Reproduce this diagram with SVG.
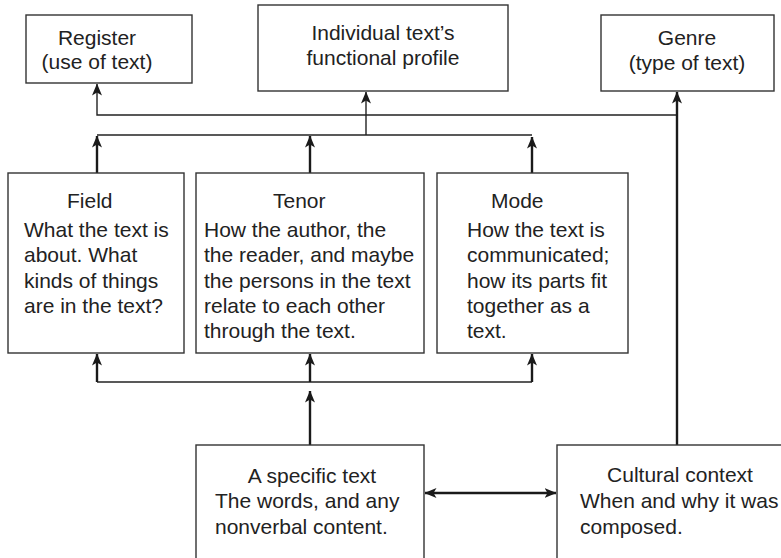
<svg xmlns="http://www.w3.org/2000/svg" width="781" height="558" viewBox="0 0 781 558">
  <style>
    .box { fill: #ffffff; stroke: #333333; stroke-width: 1.4; }
    .txt { font-family: "Liberation Sans", Arial, Helvetica, sans-serif; font-size: 21px; fill: #222222; }
    .mid { text-anchor: middle; }
    .thin { fill: none; stroke: #222222; stroke-width: 1.4; }
    .thick { fill: none; stroke: #1a1a1a; stroke-width: 2.4; }
  </style>
  <defs>
    <marker id="head" viewBox="0 0 12 10" refX="11.5" refY="5" markerWidth="12" markerHeight="10" markerUnits="userSpaceOnUse" orient="auto-start-reverse">
      <path d="M0,0 L12,5 L0,10 L3,5 Z" fill="#1a1a1a"/>
    </marker>
  </defs>

  <rect width="781" height="558" fill="#ffffff"/>

  <!-- connectors -->
  <g id="connectors">
    <!-- register / genre bar -->
    <polyline class="thin" points="677,115 97,115 97,84" marker-end="url(#head)"/>
    <!-- profile bar collecting field, tenor, mode -->
    <line class="thin" x1="97" y1="135" x2="532" y2="135"/>
    <line class="thin" x1="366" y1="135" x2="366" y2="92" marker-end="url(#head)"/>
    <line class="thick" x1="97" y1="173" x2="97" y2="136" marker-end="url(#head)"/>
    <line class="thick" x1="310" y1="173" x2="310" y2="136" marker-end="url(#head)"/>
    <line class="thick" x1="532" y1="173" x2="532" y2="137" marker-end="url(#head)"/>
    <!-- genre riser from cultural context -->
    <line class="thick" x1="677" y1="445" x2="677" y2="92" marker-end="url(#head)"/>
    <!-- lower distribution bar -->
    <line class="thin" x1="97" y1="382" x2="532" y2="382"/>
    <line class="thick" x1="97" y1="382" x2="97" y2="354" marker-end="url(#head)"/>
    <line class="thick" x1="310" y1="382" x2="310" y2="354" marker-end="url(#head)"/>
    <line class="thick" x1="532" y1="382" x2="532" y2="354" marker-end="url(#head)"/>
    <line class="thick" x1="310" y1="445" x2="310" y2="391" marker-end="url(#head)"/>
    <!-- text / context exchange -->
    <line class="thick" x1="425" y1="493" x2="556" y2="493" marker-start="url(#head)" marker-end="url(#head)"/>
  </g>

  <g id="register">
    <rect class="box" x="26" y="15" width="166" height="68"/>
    <text class="txt mid" x="97" y="45">Register</text>
    <text class="txt mid" x="97" y="69">(use of text)</text>
  </g>

  <g id="profile">
    <rect class="box" x="258" y="5" width="250" height="86"/>
    <text class="txt mid" x="383" y="40">Individual text’s</text>
    <text class="txt mid" x="383" y="65">functional profile</text>
  </g>

  <g id="genre">
    <rect class="box" x="601" y="15" width="173" height="76"/>
    <text class="txt mid" x="687" y="45">Genre</text>
    <text class="txt mid" x="687" y="70">(type of text)</text>
  </g>

  <g id="field">
    <rect class="box" x="8" y="173" width="176" height="180"/>
    <text class="txt" x="67" y="208">Field</text>
    <text class="txt" x="24" y="237">What the text is</text>
    <text class="txt" x="24" y="262">about. What</text>
    <text class="txt" x="24" y="288">kinds of things</text>
    <text class="txt" x="24" y="313">are in the text?</text>
  </g>

  <g id="tenor">
    <rect class="box" x="196" y="173" width="228" height="180"/>
    <text class="txt" x="273" y="208">Tenor</text>
    <text class="txt" x="204" y="237">How the author, the</text>
    <text class="txt" x="204" y="262">the reader, and maybe</text>
    <text class="txt" x="204" y="288">the persons in the text</text>
    <text class="txt" x="204" y="313">relate to each other</text>
    <text class="txt" x="204" y="338">through the text.</text>
  </g>

  <g id="mode">
    <rect class="box" x="437" y="173" width="191" height="180"/>
    <text class="txt" x="491" y="208">Mode</text>
    <text class="txt" x="467" y="237">How the text is</text>
    <text class="txt" x="467" y="262">communicated;</text>
    <text class="txt" x="467" y="288">how its parts fit</text>
    <text class="txt" x="467" y="313">together as a</text>
    <text class="txt" x="467" y="338">text.</text>
  </g>

  <g id="specific-text">
    <rect class="box" x="196" y="445" width="228" height="130"/>
    <text class="txt mid" x="312" y="483">A specific text</text>
    <text class="txt" x="215" y="508">The words, and any</text>
    <text class="txt" x="215" y="534">nonverbal content.</text>
  </g>

  <g id="cultural-context">
    <rect class="box" x="557" y="445" width="240" height="130"/>
    <text class="txt mid" x="680" y="482">Cultural context</text>
    <text class="txt" x="580" y="508">When and why it was</text>
    <text class="txt" x="580" y="534">composed.</text>
  </g>
</svg>
